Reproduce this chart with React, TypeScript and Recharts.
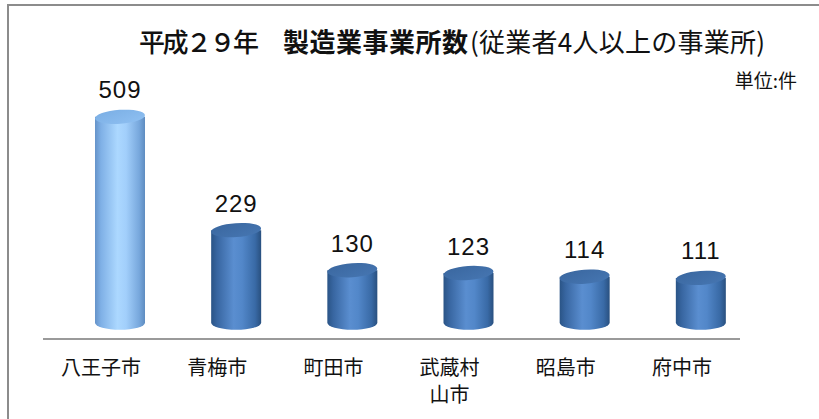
import React from 'react';
import { BarChart, Bar, XAxis, YAxis, LabelList } from 'recharts';

const categories = ['八王子市', '青梅市', '町田市', '武蔵村山市', '昭島市', '府中市'];
const values = [509, 229, 130, 123, 114, 111];
const tickLines = [['八王子市'], ['青梅市'], ['町田市'], ['武蔵村', '山市'], ['昭島市'], ['府中市']];
const titleMain = '平成２９年';
const titleBold = '製造業事業所数';
const titleSub = '(従業者4人以上の事業所)';
const unitLabel = '単位:件';

const data = categories.map((c, i) => ({ name: c, value: values[i], idx: i }));

const CJK = '"Noto Sans CJK JP", "Noto Sans", sans-serif';
const BAR_SHIFT = 19;

function Cylinder(props: any) {
  const { x, y, width, height, index } = props;
  const cx = x + width / 2 + BAR_SHIFT;
  const rx = width / 2;
  const ry = 7;
  const left = cx - rx;
  const right = cx + rx;
  const top = y;
  const bottom = y + height;
  const light = index === 0;
  const gid = `cyl-body-${index}`;
  const tid = `cyl-top-${index}`;
  const stops = light
    ? [
        ['0%', '#6593c9'],
        ['12%', '#7fb0e6'],
        ['45%', '#acd8ff'],
        ['62%', '#a2cffb'],
        ['88%', '#78a8dd'],
        ['100%', '#5e8cc0'],
      ]
    : [
        ['0%', '#2a5486'],
        ['12%', '#3866a1'],
        ['45%', '#5a8ed0'],
        ['62%', '#5287c9'],
        ['88%', '#396aa6'],
        ['100%', '#29507f'],
      ];
  const topStops = light
    ? [
        ['0%', '#7aaee4'],
        ['100%', '#8fc0f2'],
      ]
    : [
        ['0%', '#3a679f'],
        ['100%', '#4676b2'],
      ];
  return (
    <g>
      <defs>
        <linearGradient id={gid} x1="0" y1="0" x2="1" y2="0">
          {stops.map(([o, c]) => (
            <stop key={o} offset={o} stopColor={c} />
          ))}
        </linearGradient>
        <linearGradient id={tid} x1="0" y1="0" x2="1" y2="1">
          {topStops.map(([o, c]) => (
            <stop key={o} offset={o} stopColor={c} />
          ))}
        </linearGradient>
      </defs>
      <path
        d={`M${left},${top} L${left},${bottom} A${rx},${ry} 0 0 0 ${right},${bottom} L${right},${top} Z`}
        fill={`url(#${gid})`}
      />
      <ellipse
        cx={cx}
        cy={top}
        rx={rx}
        ry={ry}
        fill={`url(#${tid})`}
        transform={`rotate(-4 ${cx} ${top})`}
      />
    </g>
  );
}

function ValueLabel(props: any) {
  const { x, y, width, value } = props;
  return (
    <text
      x={x + width / 2 + BAR_SHIFT}
      y={y - 27}
      textAnchor="middle"
      dominantBaseline="central"
      fontFamily='"Liberation Sans", Arial, sans-serif'
      fontSize={24}
      letterSpacing={1}
      fill="#111"
    >
      {value}
    </text>
  );
}

function CategoryTick(props: any) {
  const { x, payload, index } = props;
  const lines = tickLines[index] || [payload.value];
  return (
    <g>
      {lines.map((ln: string, i: number) => (
        <text
          key={i}
          x={x}
          y={366 + i * 27}
          textAnchor="middle"
          dominantBaseline="central"
          fontFamily={CJK}
          fontSize={20}
          fill="#111"
        >
          {ln}
        </text>
      ))}
    </g>
  );
}

export default function App() {
  return (
    <div
      style={{
        position: 'absolute',
        left: 0,
        top: 0,
        width: 819,
        height: 419,
        overflow: 'hidden',
        background: '#fff',
      }}
    >
      <div
        style={{
          position: 'absolute',
          left: 7,
          top: 4,
          width: 1000,
          height: 1000,
          borderLeft: '2px solid #8c8c8c',
          borderTop: '2px solid #8c8c8c',
        }}
      />
      <div style={{ position: 'absolute', left: 0, top: 0 }}>
        <BarChart
          width={819}
          height={419}
          data={data}
          margin={{ top: 80, right: 79, left: 43, bottom: 0 }}
          barCategoryGap={0}
        >
          <XAxis
            dataKey="name"
            height={80}
            axisLine={{ stroke: '#9a9a9a', strokeWidth: 2 }}
            tickLine={false}
            tick={<CategoryTick />}
            interval={0}
          />
          <YAxis hide width={0} domain={[-40, 600]} />
          <Bar
            dataKey="value"
            barSize={50}
            shape={<Cylinder />}
            isAnimationActive={false}
          >
            <LabelList dataKey="value" content={<ValueLabel />} />
          </Bar>
        </BarChart>
      </div>
      <svg
        width={819}
        height={419}
        style={{ position: 'absolute', left: 0, top: 0, pointerEvents: 'none' }}
      >
        <text
          x={139}
          y={40}
          dominantBaseline="central"
          fontFamily={CJK}
          fontSize={26}
          fontWeight={500}
          textLength={120}
          lengthAdjust="spacing"
          fill="#111"
        >
          {titleMain}
        </text>
        <text
          x={283}
          y={40}
          dominantBaseline="central"
          fontFamily={CJK}
          fontSize={26}
          fontWeight={700}
          textLength={185}
          lengthAdjust="spacing"
          fill="#111"
        >
          {titleBold}
        </text>
        <text
          x={470}
          y={40}
          dominantBaseline="central"
          fontFamily={CJK}
          fontSize={26}
          fontWeight={400}
          textLength={295}
          lengthAdjust="spacing"
          fill="#111"
        >
          {titleSub}
        </text>
        <text
          x={797}
          y={79}
          textAnchor="end"
          dominantBaseline="central"
          fontFamily={CJK}
          fontSize={19}
          fill="#111"
        >
          {unitLabel}
        </text>
      </svg>
    </div>
  );
}
